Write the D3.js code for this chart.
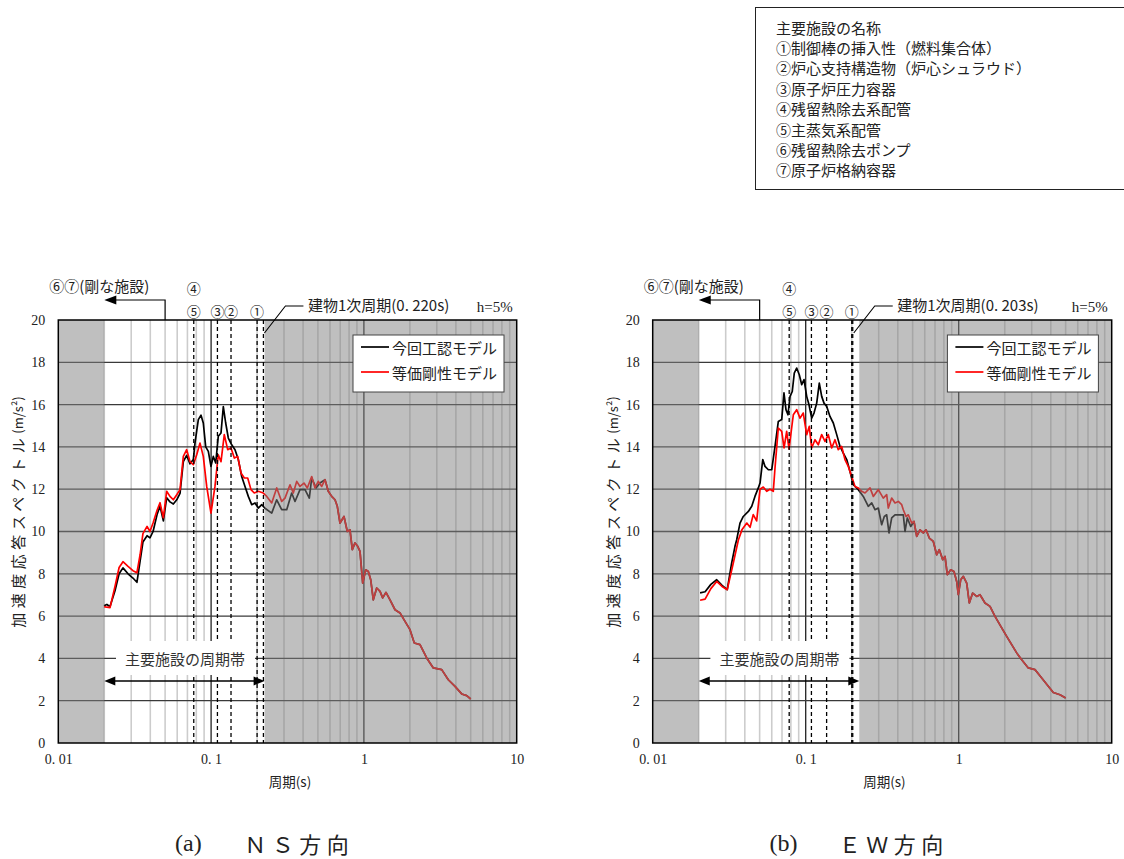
<!DOCTYPE html>
<html><head><meta charset="utf-8">
<script src="https://cdn.jsdelivr.net/npm/d3@7"></script>
<style>body{margin:0;background:#fff;} svg{display:block;}</style>
</head><body><svg id="c" width="1124" height="859"></svg>
<script>
// ---------------- DATA ----------------
const periodTicks = [0.01, 0.1, 1, 10];
const periodTickLabels = ["0. 01", "0. 1", "1", "10"];
const accTicks = [0, 2, 4, 6, 8, 10, 12, 14, 16, 18, 20];
const legendLabels = ["今回工認モデル", "等価剛性モデル"];
const facilityTitle = "主要施設の名称";
const facilityNames = ["①制御棒の挿入性（燃料集合体）", "②炉心支持構造物（炉心シュラウド）", "③原子炉圧力容器",
  "④残留熱除去系配管", "⑤主蒸気系配管", "⑥残留熱除去ポンプ", "⑦原子炉格納容器"];

// NS direction
const nsBlackHead = [[0.0199,6.49],[0.0208,6.55],[0.0218,6.45],[0.0235,7.2],[0.025,8.0],[0.0265,8.28],[0.0286,8.0],[0.0308,7.8],[0.0327,7.6],[0.0343,8.6],[0.0358,9.5],[0.0381,9.8],[0.0398,9.7],[0.0417,10.0],[0.0443,10.8],[0.0463,11.2],[0.0487,10.5],[0.0512,11.6],[0.0538,11.4],[0.0566,11.3],[0.0596,11.5],[0.0626,11.8],[0.0658,13.3],[0.0692,13.6],[0.0728,13.2],[0.0765,13.4],[0.0785,14.2],[0.0825,15.29],[0.0859,15.5],[0.0889,15.13],[0.0922,14.0],[0.0959,13.79],[0.0998,13.08],[0.1034,13.55],[0.1072,13.24],[0.1114,14.5],[0.1161,14.66],[0.1202,15.9],[0.1246,15.13],[0.1296,14.42],[0.1364,14.1],[0.1434,13.87],[0.1507,13.4],[0.1586,12.6],[0.1667,12.13],[0.1752,11.66],[0.1844,11.27],[0.1938,11.35],[0.2037,11.11],[0.2144,11.27],[0.2253,11.1],[0.2493,10.87],[0.2688,11.5],[0.2897,11.03],[0.3125,11.03],[0.3369,11.82],[0.3541,11.42],[0.3818,11.98],[0.4117,11.98],[0.4393,11.58],[0.4554,12.53],[0.486,12.06],[0.516,12.29],[0.5566,12.45]];
const nsRedHead = [[0.0199,6.45],[0.0208,6.42],[0.0218,6.4],[0.0235,7.4],[0.025,8.3],[0.0265,8.57],[0.0286,8.35],[0.0308,8.15],[0.0327,8.05],[0.0343,8.9],[0.0358,9.9],[0.0381,10.24],[0.0398,10.0],[0.0417,10.4],[0.0443,11.0],[0.0463,11.36],[0.0487,10.65],[0.0512,11.9],[0.0538,11.66],[0.0566,11.5],[0.0596,11.74],[0.0626,11.98],[0.0658,13.55],[0.0692,13.87],[0.0728,13.3],[0.0765,13.16],[0.0805,13.63],[0.0846,14.18],[0.0889,13.55],[0.0936,12.13],[0.0998,10.87],[0.106,12.13],[0.1114,13.63],[0.1161,13.3],[0.122,14.58],[0.1284,13.87],[0.135,13.95],[0.1419,13.47],[0.1493,13.55],[0.1569,12.77],[0.165,12.53],[0.1736,12.53],[0.1824,11.98],[0.1917,11.82],[0.2037,11.9],[0.2196,11.82],[0.2287,11.7],[0.2493,11.35],[0.2688,12.06],[0.2897,11.42],[0.3045,11.58],[0.3284,12.21],[0.3451,11.82],[0.3633,12.37],[0.3818,12.13],[0.4055,12.29],[0.4262,12.06],[0.4554,12.6],[0.4786,12.06],[0.503,12.37],[0.5295,12.13],[0.5566,12.45]];
const nsTail = [[0.5848,11.9],[0.6156,11.66],[0.647,11.5],[0.6698,11.19],[0.6976,10.4],[0.7409,10.71],[0.7787,10.0],[0.811,10.08],[0.8397,9.14],[0.8746,9.46],[0.9108,9.3],[0.943,9.06],[0.982,7.56],[1.028,8.19],[1.069,8.11],[1.108,7.72],[1.152,6.77],[1.213,7.33],[1.275,7.17],[1.327,6.86],[1.395,7.12],[1.482,6.77],[1.598,6.3],[1.723,6.15],[1.858,5.75],[2.003,5.36],[2.137,4.73],[2.329,4.65],[2.576,4.02],[2.846,3.55],[3.23,3.47],[3.568,2.99],[3.947,2.68],[4.366,2.32],[4.708,2.24],[5.0,2.08]];
const nsFacilityPeriods = [0.077, 0.11, 0.135, 0.2];
const nsBuildingPeriod = 0.22;

// EW direction
const ewBlackHead = [[0.0204,7.1],[0.022,7.15],[0.024,7.5],[0.0262,7.72],[0.0284,7.45],[0.0307,7.25],[0.0328,8.5],[0.0345,9.3],[0.0354,9.61],[0.0372,10.4],[0.0391,10.71],[0.0422,10.95],[0.0444,11.19],[0.0466,11.66],[0.049,12.06],[0.0503,12.29],[0.0524,13.4],[0.0542,13.08],[0.057,12.92],[0.06,12.92],[0.063,14.02],[0.0662,15.2],[0.0697,15.29],[0.0721,16.55],[0.0743,15.76],[0.0766,15.52],[0.079,16.39],[0.0817,16.62],[0.0842,17.49],[0.0873,17.73],[0.0908,17.41],[0.0942,16.94],[0.0975,17.18],[0.1015,16.39],[0.1051,15.99],[0.1094,15.36],[0.1133,15.6],[0.118,16.07],[0.1227,17.02],[0.1272,16.39],[0.1317,16.07],[0.1372,15.91],[0.1441,15.44],[0.1515,15.13],[0.1595,14.58],[0.1676,14.02],[0.1761,13.71],[0.1854,13.4],[0.1948,12.84],[0.2047,12.21],[0.2207,11.98],[0.2379,11.66],[0.2566,11.19],[0.27,11.35],[0.2838,11.03],[0.2982,11.11],[0.3138,10.32],[0.3263,10.71],[0.3383,10.79],[0.3502,9.93],[0.3648,10.64],[0.3834,10.79],[0.4133,10.79],[0.4344,10.79],[0.4457,10.0],[0.4614,10.64],[0.4856,10.24],[0.5103,10.48]];
const ewRedHead = [[0.0204,6.75],[0.022,6.8],[0.024,7.3],[0.0262,7.64],[0.0284,7.4],[0.0307,7.25],[0.0336,8.5],[0.0363,9.6],[0.0384,10.1],[0.0412,10.4],[0.0433,10.2],[0.0454,10.8],[0.0478,10.5],[0.0503,12.0],[0.0528,12.1],[0.0556,11.9],[0.0584,12.0],[0.0614,11.9],[0.063,13.0],[0.0662,14.89],[0.0697,14.73],[0.0722,13.95],[0.0751,14.73],[0.0778,13.9],[0.083,15.52],[0.0873,15.76],[0.0918,15.36],[0.0964,15.6],[0.1015,14.58],[0.1055,14.97],[0.1094,13.95],[0.115,14.34],[0.1209,14.1],[0.1272,14.58],[0.1337,14.26],[0.1405,14.58],[0.1479,13.95],[0.1554,14.34],[0.1633,13.87],[0.1719,14.02],[0.1806,13.4],[0.1898,13.08],[0.1998,12.6],[0.21,12.13],[0.2207,12.06],[0.2323,11.9],[0.2441,11.82],[0.2632,12.06],[0.2766,11.66],[0.2982,11.98],[0.3214,11.58],[0.3383,11.74],[0.3466,11.11],[0.3648,11.58],[0.3834,11.35],[0.4029,11.42],[0.4241,11.27],[0.4344,11.03],[0.4525,10.71],[0.4684,10.79],[0.493,10.4],[0.5103,10.48]];
const ewTail = [[0.5315,9.77],[0.5586,10.08],[0.587,9.93],[0.6114,10.08],[0.6425,9.69],[0.6823,9.53],[0.7181,8.9],[0.7468,9.14],[0.7862,8.67],[0.8139,8.82],[0.8425,7.96],[0.8862,8.19],[0.9319,8.11],[0.9703,7.64],[0.994,7.01],[1.031,7.72],[1.072,7.88],[1.128,7.56],[1.173,6.62],[1.234,7.09],[1.311,6.93],[1.378,7.01],[1.486,6.62],[1.602,6.46],[1.727,5.99],[1.91,5.44],[2.059,5.04],[2.22,4.65],[2.394,4.26],[2.581,3.94],[2.85,3.55],[3.153,3.47],[3.488,3.07],[3.851,2.68],[4.152,2.39],[4.592,2.28],[5.0,2.13]];
const ewFacilityPeriods = [0.078, 0.109, 0.137, 0.2];
const ewBuildingPeriod = 0.203;

const rigidLimit = 0.02, rigidArrowFrom = 0.05, bandEnd = 0.224;

// ---------------- DRAW ----------------
const svg = d3.select("#c");
const JP = "'Noto Sans CJK JP', 'Noto Sans', sans-serif";
const SERIF = "'Liberation Serif', 'DejaVu Serif', serif";
const yTop = 320, yBot = 743;

const panels = [
  {x0: 58.3, x1: 516.7, black: nsBlackHead.concat(nsTail), red: nsRedHead.concat(nsTail),
   fac: nsFacilityPeriods, bld: nsBuildingPeriod, bldLabel: "建物1次周期(0. 220s)", cap: ["(a)", "ＮＳ方向"]},
  {x0: 652.7, x1: 1111.7, black: ewBlackHead.concat(ewTail), red: ewRedHead.concat(ewTail),
   fac: ewFacilityPeriods, bld: ewBuildingPeriod, bldLabel: "建物1次周期(0. 203s)", cap: ["(b)", "ＥＷ方向"]}
];

// top-right facility box
svg.append("rect").attr("x", 755.5).attr("y", 7.5).attr("width", 380).attr("height", 182)
  .attr("fill", "#fff").attr("stroke", "#222").attr("stroke-width", 1);
[facilityTitle].concat(facilityNames).forEach((t, i) => {
  svg.append("text").attr("x", 776).attr("y", 27 + i * 20.4).attr("dominant-baseline", "central")
    .attr("font-family", JP).attr("font-size", 15).attr("fill", "#222").text(t);
});

panels.forEach((p, pi) => {
  const g = svg.append("g");
  const x = d3.scaleLog().domain([0.01, 10]).range([p.x0, p.x1]);
  const y = d3.scaleLinear().domain([0, 20]).range([yBot, yTop]);
  const clipId = "clip" + pi;
  svg.append("clipPath").attr("id", clipId).append("rect")
    .attr("x", p.x0).attr("y", yTop).attr("width", p.x1 - p.x0).attr("height", yBot - yTop);

  const plot = g.append("g").attr("clip-path", `url(#${clipId})`);
  plot.append("rect").attr("x", p.x0).attr("y", yTop).attr("width", p.x1 - p.x0).attr("height", yBot - yTop).attr("fill", "#fff");

  // minor verticals
  const minors = [];
  [0.01, 0.1, 1].forEach(d => { for (let k = 2; k <= 9; k++) minors.push(d * k); });
  plot.selectAll(".mv").data(minors).enter().append("line")
    .attr("x1", d => x(d)).attr("x2", d => x(d)).attr("y1", yTop).attr("y2", yBot)
    .attr("stroke", "rgba(0,0,0,0.2)").attr("stroke-width", 1.6);
  // major verticals
  plot.selectAll(".Mv").data([0.1, 1]).enter().append("line")
    .attr("x1", d => x(d)).attr("x2", d => x(d)).attr("y1", yTop).attr("y2", yBot)
    .attr("stroke", "#222").attr("stroke-width", 1.3);
  // horizontals
  plot.selectAll(".h").data(accTicks.slice(1, -1)).enter().append("line")
    .attr("x1", p.x0).attr("x2", p.x1).attr("y1", d => y(d)).attr("y2", d => y(d))
    .attr("stroke", "#3a3a3a").attr("stroke-width", 1.3);

  const line = d3.line().x(d => x(d[0])).y(d => y(d[1]));
  plot.append("path").attr("d", line(p.black)).attr("fill", "none").attr("stroke", "#000").attr("stroke-width", 1.7).attr("stroke-linejoin", "round");
  plot.append("path").attr("d", line(p.red)).attr("fill", "none").attr("stroke", "#ff0000").attr("stroke-width", 1.7).attr("stroke-linejoin", "round");

  // gray overlays (outside main facility period band)
  plot.append("rect").attr("x", x(0.01)).attr("y", yTop).attr("width", x(rigidLimit) - x(0.01)).attr("height", yBot - yTop)
    .attr("fill", "rgba(128,128,128,0.5)");
  plot.append("rect").attr("x", x(bandEnd)).attr("y", yTop).attr("width", x(10) - x(bandEnd)).attr("height", yBot - yTop)
    .attr("fill", "rgba(128,128,128,0.5)");

  // dashed lines
  plot.selectAll(".dl").data(p.fac.concat([p.bld])).enter().append("line")
    .attr("x1", d => x(d)).attr("x2", d => x(d)).attr("y1", yTop).attr("y2", yBot)
    .attr("stroke", "#000").attr("stroke-width", 1.3).attr("stroke-dasharray", "4,3");

  // period band label
  plot.append("rect").attr("x", p.x0 + 57.7).attr("y", 641).attr("width", 139).attr("height", 34).attr("fill", "#fff");
  g.append("text").attr("x", p.x0 + 66.7).attr("y", 658).attr("dominant-baseline", "central")
    .attr("font-family", JP).attr("font-size", 15).attr("fill", "#333").text("主要施設の周期帯");
  // double arrow
  const ay = 681, xa = x(rigidLimit), xb = x(bandEnd);
  g.append("line").attr("x1", xa + 8).attr("x2", xb - 8).attr("y1", ay).attr("y2", ay).attr("stroke", "#000").attr("stroke-width", 1.3);
  g.append("path").attr("d", `M${xa},${ay} L${xa + 11},${ay - 4.5} L${xa + 11},${ay + 4.5} Z`).attr("fill", "#000");
  g.append("path").attr("d", `M${xb},${ay} L${xb - 11},${ay - 4.5} L${xb - 11},${ay + 4.5} Z`).attr("fill", "#000");

  // legend
  const lx = p.x0 + 294.7, ly = 335;
  g.append("rect").attr("x", lx).attr("y", ly).attr("width", 151).attr("height", 57)
    .attr("fill", "#fff").attr("stroke", "#444").attr("stroke-width", 1);
  [["#000", legendLabels[0], 12], ["#ff0000", legendLabels[1], 37]].forEach(([c, t, dy]) => {
    g.append("line").attr("x1", lx + 8).attr("x2", lx + 36).attr("y1", ly + dy).attr("y2", ly + dy)
      .attr("stroke", c).attr("stroke-width", 1.7);
    g.append("text").attr("x", lx + 39).attr("y", ly + dy).attr("dominant-baseline", "central")
      .attr("font-family", JP).attr("font-size", 15).attr("fill", "#222").text(t);
  });

  // border
  g.append("rect").attr("x", p.x0).attr("y", yTop).attr("width", p.x1 - p.x0).attr("height", yBot - yTop)
    .attr("fill", "none").attr("stroke", "#000").attr("stroke-width", 1.5);

  // axes
  const ya = g.append("g").attr("transform", `translate(${p.x0},0)`)
    .call(d3.axisLeft(y).tickValues(accTicks).tickSize(0).tickPadding(13));
  ya.select(".domain").remove();
  ya.selectAll("text").attr("font-family", SERIF).attr("font-size", 14).attr("fill", "#222");
  const xa2 = g.append("g").attr("transform", `translate(0,${yBot})`)
    .call(d3.axisBottom(x).tickValues(periodTicks).tickFormat((d, i) => periodTickLabels[i]).tickSize(0).tickPadding(11));
  xa2.select(".domain").remove();
  xa2.selectAll("text").attr("font-family", SERIF).attr("font-size", 14).attr("fill", "#222");

  g.append("text").attr("x", p.x0 + 231.7).attr("y", 781).attr("text-anchor", "middle").attr("dominant-baseline", "central")
    .attr("font-family", JP).attr("font-size", 13.5).attr("fill", "#222").text("周期(s)");
  const yl = g.append("text").attr("transform", `translate(${p.x0 - 41},512) rotate(-90)`).attr("text-anchor", "middle")
    .attr("dominant-baseline", "central").attr("font-family", JP).attr("font-size", 15).attr("fill", "#222");
  yl.append("tspan").attr("letter-spacing", 4.5).text("加速度応答スペクトル");
  yl.append("tspan").attr("font-size", 13).text("(m/s²)");

  // top annotations
  g.append("text").attr("x", p.x0 - 9).attr("y", 285).attr("dominant-baseline", "central")
    .attr("font-family", JP).attr("font-size", 15).attr("fill", "#222").text("⑥⑦(剛な施設)");
  const vx = x(rigidArrowFrom), tipx = x(rigidLimit);
  g.append("path").attr("d", `M${vx},${yTop} L${vx},300 L${tipx + 10},300`).attr("fill", "none").attr("stroke", "#000").attr("stroke-width", 1.2);
  g.append("path").attr("d", `M${tipx},300 L${tipx + 12},295.5 L${tipx + 12},304.5 Z`).attr("fill", "#000");

  const circ = [["④", p.fac[0], 288], ["⑤", p.fac[0], 311], ["③", p.fac[1], 311], ["②", p.fac[2], 311], ["①", p.fac[3], 311]];
  circ.forEach(([t, v, yy]) => {
    g.append("text").attr("x", x(v)).attr("y", yy).attr("text-anchor", "middle").attr("dominant-baseline", "central")
      .attr("font-family", JP).attr("font-size", 14).attr("fill", "#222").text(t);
  });
  const bx = x(p.bld);
  g.append("path").attr("d", `M${bx + 40},306 L${bx + 22},306 L${bx + 1},333`).attr("fill", "none").attr("stroke", "#000").attr("stroke-width", 1.1);
  g.append("text").attr("x", bx + 44.5).attr("y", 304).attr("dominant-baseline", "central")
    .attr("font-family", JP).attr("font-size", 15).attr("fill", "#222").text(p.bldLabel);
  g.append("text").attr("x", p.x1 - 4).attr("y", 307).attr("text-anchor", "end").attr("dominant-baseline", "central")
    .attr("font-family", SERIF).attr("font-size", 15).attr("fill", "#222").text("h=5%");

  // caption
  g.append("text").attr("x", p.x0 + 116.7).attr("y", 843).attr("dominant-baseline", "central")
    .attr("font-family", SERIF).attr("font-size", 24).attr("fill", "#222").text(p.cap[0]);
  g.append("text").attr("x", p.x0 + 186).attr("y", 843).attr("dominant-baseline", "central")
    .attr("font-family", JP).attr("font-size", 22).attr("letter-spacing", 5.5).attr("fill", "#222").text(p.cap[1]);
});
</script></body></html>
